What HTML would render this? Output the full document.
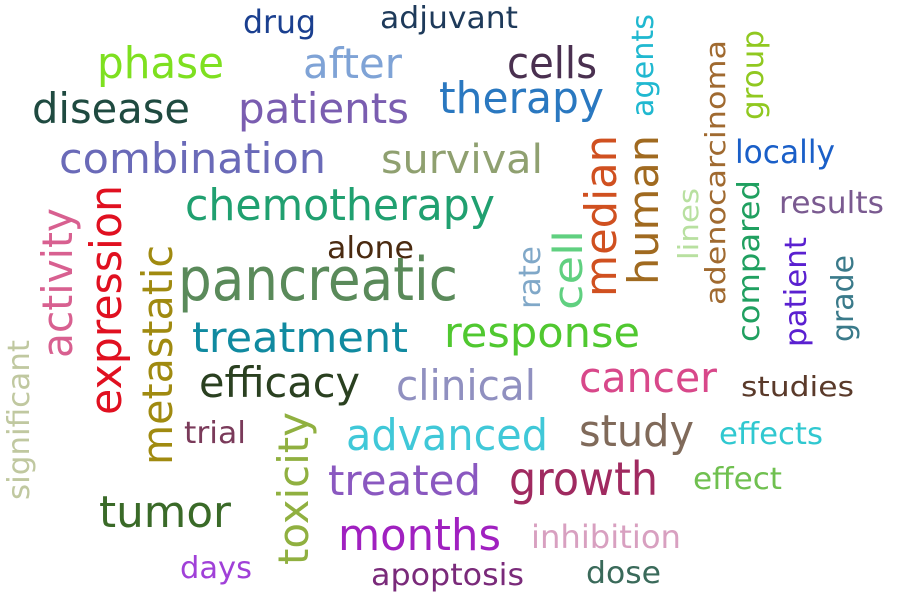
<!DOCTYPE html>
<html>
<head>
<meta charset="utf-8">
<style>
html,body{margin:0;padding:0;background:#fff;}
svg{display:block;}
text{font-family:"DejaVu Sans","Liberation Sans",sans-serif;}
</style>
</head>
<body>
<svg width="897" height="600" viewBox="0 0 897 600" lengthAdjust="spacingAndGlyphs">
<g>
<text x="243" y="33" font-size="32" fill="#1a3f8f" textLength="73" lengthAdjust="spacingAndGlyphs">drug</text>
<text x="380" y="28" font-size="30" fill="#1e3a5a" textLength="138" lengthAdjust="spacingAndGlyphs">adjuvant</text>
<text x="97" y="78" font-size="44" fill="#7ee020" textLength="127" lengthAdjust="spacingAndGlyphs">phase</text>
<text x="303" y="78" font-size="42" fill="#7fa3d6" textLength="99" lengthAdjust="spacingAndGlyphs">after</text>
<text x="507" y="78" font-size="44" fill="#4a3050" textLength="90" lengthAdjust="spacingAndGlyphs">cells</text>
<text x="32" y="123" font-size="42" fill="#1f4a40" textLength="158" lengthAdjust="spacingAndGlyphs">disease</text>
<text x="238" y="123" font-size="42" fill="#7a5db0" textLength="171" lengthAdjust="spacingAndGlyphs">patients</text>
<text x="439" y="113" font-size="44" fill="#2a78c0" textLength="165" lengthAdjust="spacingAndGlyphs">therapy</text>
<text x="59" y="173" font-size="42" fill="#6a6ab8" textLength="267" lengthAdjust="spacingAndGlyphs">combination</text>
<text x="381" y="173" font-size="40" fill="#8fa070" textLength="162" lengthAdjust="spacingAndGlyphs">survival</text>
<text x="735" y="163" font-size="32" fill="#1a5fc8" textLength="100" lengthAdjust="spacingAndGlyphs">locally</text>
<text x="185" y="220" font-size="44" fill="#20a070" textLength="310" lengthAdjust="spacingAndGlyphs">chemotherapy</text>
<text x="779" y="213" font-size="30" fill="#7a5a90" textLength="105" lengthAdjust="spacingAndGlyphs">results</text>
<text x="327" y="258" font-size="30" fill="#4a2a10" textLength="87" lengthAdjust="spacingAndGlyphs">alone</text>
<text x="178" y="300" font-size="60" fill="#5a8a5a" textLength="280" lengthAdjust="spacingAndGlyphs">pancreatic</text>
<text x="192" y="352" font-size="42" fill="#108aa0" textLength="216" lengthAdjust="spacingAndGlyphs">treatment</text>
<text x="444" y="347" font-size="42" fill="#50c830" textLength="196" lengthAdjust="spacingAndGlyphs">response</text>
<text x="199" y="397" font-size="42" fill="#2a4020" textLength="161" lengthAdjust="spacingAndGlyphs">efficacy</text>
<text x="396" y="400" font-size="42" fill="#9090c0" textLength="140" lengthAdjust="spacingAndGlyphs">clinical</text>
<text x="579" y="392" font-size="42" fill="#d8488a" textLength="138" lengthAdjust="spacingAndGlyphs">cancer</text>
<text x="741" y="396" font-size="28" fill="#5a3a2a" textLength="113" lengthAdjust="spacingAndGlyphs">studies</text>
<text x="184" y="443" font-size="30" fill="#7a3a5a" textLength="62" lengthAdjust="spacingAndGlyphs">trial</text>
<text x="346" y="450" font-size="44" fill="#40c8d8" textLength="202" lengthAdjust="spacingAndGlyphs">advanced</text>
<text x="579" y="446" font-size="44" fill="#806a5a" textLength="115" lengthAdjust="spacingAndGlyphs">study</text>
<text x="719" y="444" font-size="30" fill="#30c8d0" textLength="104" lengthAdjust="spacingAndGlyphs">effects</text>
<text x="328" y="495" font-size="42" fill="#8a58c0" textLength="153" lengthAdjust="spacingAndGlyphs">treated</text>
<text x="509" y="495" font-size="46" fill="#a02a60" textLength="149" lengthAdjust="spacingAndGlyphs">growth</text>
<text x="693" y="489" font-size="30" fill="#70c050" textLength="89" lengthAdjust="spacingAndGlyphs">effect</text>
<text x="99" y="527" font-size="44" fill="#3a6a28" textLength="132" lengthAdjust="spacingAndGlyphs">tumor</text>
<text x="338" y="550" font-size="44" fill="#a020c0" textLength="163" lengthAdjust="spacingAndGlyphs">months</text>
<text x="531" y="548" font-size="32" fill="#d8a0c0" textLength="150" lengthAdjust="spacingAndGlyphs">inhibition</text>
<text x="180" y="578" font-size="30" fill="#a040d8" textLength="72" lengthAdjust="spacingAndGlyphs">days</text>
<text x="371" y="585" font-size="30" fill="#7a2a7a" textLength="153" lengthAdjust="spacingAndGlyphs">apoptosis</text>
<text x="586" y="583" font-size="30" fill="#3a6a5a" textLength="75" lengthAdjust="spacingAndGlyphs">dose</text>
</g>
<g>
<text transform="translate(653,117) rotate(-90)" font-size="30" fill="#20b8d0" textLength="103" lengthAdjust="spacingAndGlyphs">agents</text>
<text transform="translate(725,305) rotate(-90)" font-size="28" fill="#a06a30" textLength="265" lengthAdjust="spacingAndGlyphs">adenocarcinoma</text>
<text transform="translate(763,120) rotate(-90)" font-size="30" fill="#90c820" textLength="90" lengthAdjust="spacingAndGlyphs">group</text>
<text transform="translate(658,285) rotate(-90)" font-size="42" fill="#a06a20" textLength="150" lengthAdjust="spacingAndGlyphs">human</text>
<text transform="translate(616,297) rotate(-90)" font-size="44" fill="#d05020" textLength="162" lengthAdjust="spacingAndGlyphs">median</text>
<text transform="translate(698,260) rotate(-90)" font-size="28" fill="#b8e0a0" textLength="72" lengthAdjust="spacingAndGlyphs">lines</text>
<text transform="translate(759,342) rotate(-90)" font-size="30" fill="#20a060" textLength="162" lengthAdjust="spacingAndGlyphs">compared</text>
<text transform="translate(806,347) rotate(-90)" font-size="30" fill="#5a20d0" textLength="110" lengthAdjust="spacingAndGlyphs">patient</text>
<text transform="translate(853,342) rotate(-90)" font-size="30" fill="#3a7a8a" textLength="87" lengthAdjust="spacingAndGlyphs">grade</text>
<text transform="translate(540,309) rotate(-90)" font-size="30" fill="#80a8c8" textLength="63" lengthAdjust="spacingAndGlyphs">rate</text>
<text transform="translate(582,310) rotate(-90)" font-size="40" fill="#60d080" textLength="80" lengthAdjust="spacingAndGlyphs">cell</text>
<text transform="translate(72,358) rotate(-90)" font-size="42" fill="#d86090" textLength="150" lengthAdjust="spacingAndGlyphs">activity</text>
<text transform="translate(121,415) rotate(-90)" font-size="44" fill="#e01020" textLength="230" lengthAdjust="spacingAndGlyphs">expression</text>
<text transform="translate(172,465) rotate(-90)" font-size="42" fill="#a08a10" textLength="220" lengthAdjust="spacingAndGlyphs">metastatic</text>
<text transform="translate(29,500) rotate(-90)" font-size="30" fill="#c0c8a0" textLength="160" lengthAdjust="spacingAndGlyphs">significant</text>
<text transform="translate(308,565) rotate(-90)" font-size="42" fill="#90b040" textLength="153" lengthAdjust="spacingAndGlyphs">toxicity</text>
</g>
</svg>
</body>
</html>
